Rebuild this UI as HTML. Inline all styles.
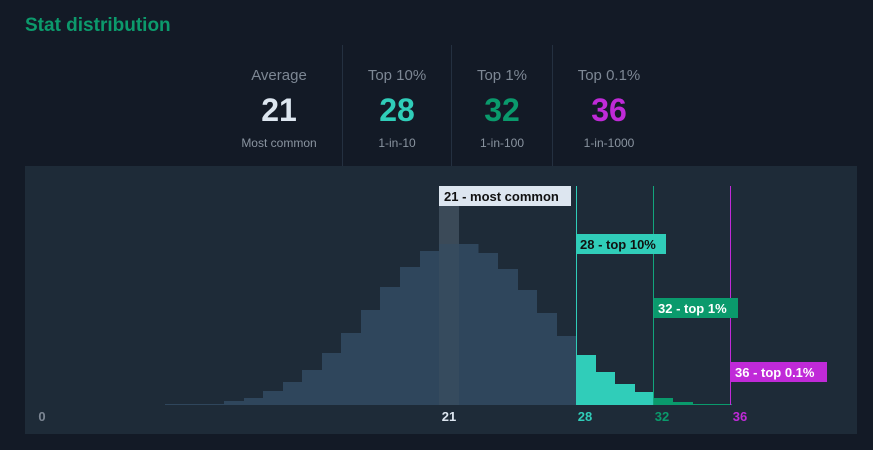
<!DOCTYPE html><html><head><meta charset="utf-8"><style>
body{margin:0;background:#131a26;width:873px;height:450px;overflow:hidden;font-family:"Liberation Sans",sans-serif}
</style></head><body>
<svg width="873" height="450" xmlns="http://www.w3.org/2000/svg" style="position:absolute;left:0;top:0;font-family:'Liberation Sans',sans-serif">
<rect width="873" height="450" fill="#131a26"/>
<text x="25" y="31" fill="#0c9a6c" font-size="19" font-weight="bold">Stat distribution</text>
<g fill="#243040"><rect x="342" y="45" width="1" height="121"/><rect x="451" y="45" width="1" height="121"/><rect x="552" y="45" width="1" height="121"/></g>
<g text-anchor="middle">
<text x="279" y="80" fill="#7d8794" font-size="15">Average</text>
<text x="397" y="80" fill="#7d8794" font-size="15">Top 10%</text>
<text x="502" y="80" fill="#7d8794" font-size="15">Top 1%</text>
<text x="609" y="80" fill="#7d8794" font-size="15">Top 0.1%</text>
<g font-size="32" font-weight="bold"><text x="279" y="121" fill="#dde6f0">21</text><text x="397" y="121" fill="#30cdb9">28</text><text x="502" y="121" fill="#0a9a6c">32</text><text x="609" y="121" fill="#c02ad8">36</text></g>
<g font-size="12" fill="#8a94a0"><text x="279" y="147">Most common</text><text x="397" y="147">1-in-10</text><text x="502" y="147">1-in-100</text><text x="609" y="147">1-in-1000</text></g>
</g>
<rect x="25" y="166" width="832" height="268" fill="#1e2b38"/>
<rect x="439" y="186" width="20" height="219" fill="#3b4a58"/>
<g fill="#2f465c">
<rect x="165" y="404" width="40" height="1"/>
<rect x="205" y="404" width="20" height="1"/>
<rect x="224" y="401" width="20" height="4"/>
<rect x="244" y="398" width="20" height="7"/>
<rect x="263" y="391" width="20" height="14"/>
<rect x="283" y="382" width="20" height="23"/>
<rect x="302" y="370" width="20" height="35"/>
<rect x="322" y="353" width="20" height="52"/>
<rect x="341" y="333" width="20" height="72"/>
<rect x="361" y="310" width="20" height="95"/>
<rect x="380" y="287" width="20" height="118"/>
<rect x="400" y="267" width="20" height="138"/>
<rect x="420" y="251" width="19" height="154"/>
<rect x="459" y="244" width="19.5" height="161"/>
<rect x="478" y="253" width="20" height="152"/>
<rect x="498" y="269" width="20" height="136"/>
<rect x="517" y="290" width="20" height="115"/>
<rect x="537" y="313" width="20" height="92"/>
<rect x="556" y="336" width="20" height="69"/>
</g>
<rect x="439" y="244" width="20" height="161" fill="#364b5e"/>
<g fill="#30cdb9">
<rect x="576" y="355" width="20" height="50"/>
<rect x="595" y="372" width="20" height="33"/>
<rect x="615" y="384" width="20" height="21"/>
<rect x="634" y="392" width="20" height="13"/>
</g>
<g fill="#0a9a6c">
<rect x="654" y="398" width="19" height="7"/>
<rect x="673" y="402" width="20" height="3"/>
<rect x="693" y="404" width="20" height="1"/>
<rect x="712" y="404" width="20" height="1"/>
</g>
<rect x="576" y="186" width="1" height="219" fill="#30cdb9"/>
<rect x="653" y="186" width="1" height="219" fill="#12a57c"/>
<rect x="730" y="186" width="1" height="219" fill="#c02ad8"/>
<g font-size="13" font-weight="bold">
<rect x="439" y="186" width="132" height="20" fill="#dde6f0"/><text x="444" y="201" fill="#111">21 - most common</text>
<rect x="576" y="234" width="90" height="20" fill="#30cdb9"/><text x="580" y="249" fill="#111">28 - top 10%</text>
<rect x="654" y="298" width="84" height="20" fill="#0a9a6c"/><text x="658" y="313" fill="#fff">32 - top 1%</text>
<rect x="731" y="362" width="96" height="20" fill="#c02ad8"/><text x="735" y="377" fill="#fff">36 - top 0.1%</text>
</g>
<g font-size="13" font-weight="bold" text-anchor="middle">
<text x="42" y="421" fill="#7d8794">0</text>
<text x="449" y="421" fill="#dde6f0">21</text>
<text x="585" y="421" fill="#30cdb9">28</text>
<text x="662" y="421" fill="#0a9a6c">32</text>
<text x="740" y="421" fill="#c02ad8">36</text>
</g>
</svg>
</body></html>
